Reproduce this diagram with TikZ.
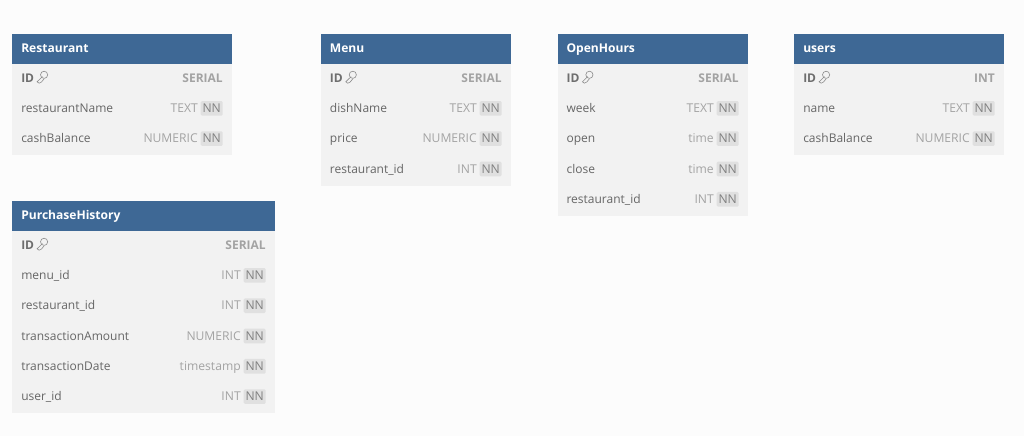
\documentclass[tikz,border=0pt]{standalone}
\usepackage{fontspec}
\setmainfont{Open Sans}
\definecolor{pagebg}{HTML}{FCFCFC}
\definecolor{headblue}{HTML}{3E6895}
\definecolor{bodygrey}{HTML}{F2F2F2}
\definecolor{nametxt}{HTML}{666666}
\definecolor{typetxt}{HTML}{A3A3A3}
\definecolor{idtxt}{HTML}{6E6E6E}
\definecolor{nnbg}{HTML}{E0E0E0}
\definecolor{nntxt}{HTML}{808080}
\tikzset{
  x=0.75pt,y=-0.75pt,
  headbox/.style={fill=headblue,draw=none,inner sep=0,anchor=north west},
  bodybox/.style={fill=bodygrey,draw=none,inner sep=0,anchor=north west},
  titletxt/.style={text=white,font=\fontsize{9.05}{11}\selectfont\bfseries,anchor=base west,inner sep=0},
  fieldtxt/.style={text=nametxt,font=\fontsize{9.0}{11}\selectfont,anchor=base west,inner sep=0},
  idfield/.style={text=idtxt,font=\fontsize{9.0}{11}\selectfont\bfseries,anchor=base west,inner sep=0},
  idtype/.style={text=typetxt,font=\fontsize{9.0}{11}\selectfont\bfseries,anchor=base east,inner sep=0},
  typetext/.style={text=typetxt,font=\fontsize{9.1}{11}\selectfont,anchor=base east,inner sep=0},
  nnchip/.style={fill=nnbg,rounded corners=1pt,text=nntxt,font=\fontsize{9.1}{11}\selectfont,minimum width=16.5pt,minimum height=11pt,inner sep=0,anchor=east},
  keyicon/.style={draw=idtxt!80,line width=0.45pt,fill=none},
}
% #1 id, #2 left, #3 right, #4 top, #5 title, #6 number of rows incl. ID, #7 ID type, #8 rows
\newcommand{\dbtable}[8]{%
  \pgfmathsetmacro{\tw}{(#3-#2)*0.75}
  \pgfmathsetmacro{\bh}{#6*30.33*0.75}
  \node[headbox,minimum width=\tw pt,minimum height=22.9pt] (#1head) at (#2,#4) {};
  \node[bodybox,minimum width=\tw pt,minimum height=\bh pt] (#1body) at (#2,#4+30.5) {};
  \node[titletxt] (#1title) at (#2+9,#4+18.6) {#5};
  \node[idfield] (#1id) at (#2+9,#4+48.5) {ID};
  \begin{scope}[shift={(#2+26.5,#4+43.5)}]
    \draw[keyicon] (5.6,-2.2) circle[radius=2.7pt];
    \draw[keyicon] (3.9,-0.4) -- (-1.4,4.8) -- (0.6,6.2) -- (3,5) -- (5.6,1.8);
  \end{scope}
  \node[idtype] (#1idtype) at (#3-9,#4+48.5) {#7};
  \foreach \rownum/\fname/\ftype in {#8} {
    \pgfmathsetmacro{\ry}{#4+48.8+\rownum*30.33}
    \node[fieldtxt] (#1f\rownum) at (#2+9,\ry) {\fname};
    \node[nnchip] (#1n\rownum) at (#3-9,\ry-4.3) {NN};
    \node[typetext] (#1t\rownum) at (#3-34,\ry) {\ftype};
  }
}
\begin{document}
\begin{tikzpicture}
\fill[pagebg] (0,0) rectangle (1024,436);
\useasboundingbox (0,0) rectangle (1024,436);
\dbtable{res}{12}{232}{33.5}{Restaurant}{3}{SERIAL}{1/restaurantName/TEXT,2/cashBalance/NUMERIC}
\dbtable{menu}{320.7}{511}{33.5}{Menu}{4}{SERIAL}{1/dishName/TEXT,2/price/NUMERIC,3/restaurant\_id/INT}
\dbtable{open}{557.3}{748}{33.5}{OpenHours}{5}{SERIAL}{1/week/TEXT,2/open/time,3/close/time,4/restaurant\_id/INT}
\dbtable{usr}{794}{1004}{33.5}{users}{3}{INT}{1/name/TEXT,2/cashBalance/NUMERIC}
\dbtable{pur}{12}{275}{200.5}{PurchaseHistory}{6}{SERIAL}{1/menu\_id/INT,2/restaurant\_id/INT,3/transactionAmount/NUMERIC,4/transactionDate/timestamp,5/user\_id/INT}
\end{tikzpicture}
\end{document}
